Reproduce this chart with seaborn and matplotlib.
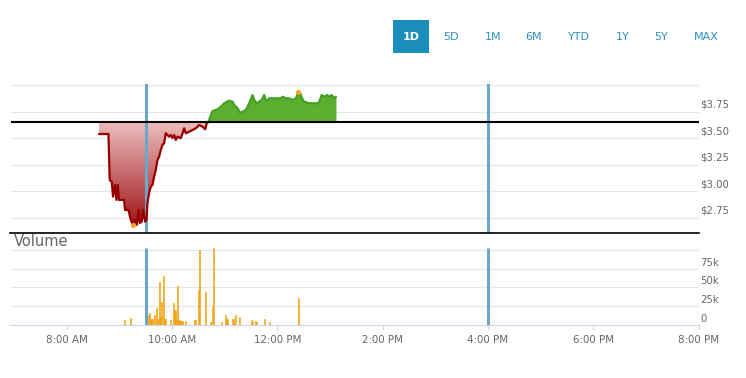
import numpy as np
import pandas as pd
import seaborn as sns
import matplotlib.pyplot as plt
import matplotlib.transforms as mtransforms
from matplotlib.colors import LinearSegmentedColormap
from matplotlib.patches import Rectangle

# intraday price (hours since midnight, $)
price_time = [8.614, 8.793, 8.817, 8.856, 8.880, 8.918, 8.945, 8.970, 8.994, 9.089,
              9.108, 9.173, 9.217, 9.260, 9.298, 9.331, 9.363, 9.388, 9.426, 9.451,
              9.489, 9.515, 9.534, 9.565, 9.597, 9.629, 9.660, 9.692, 9.724, 9.755,
              9.787, 9.819, 9.850, 9.882, 9.914, 9.945, 9.977, 10.009, 10.040, 10.072,
              10.105, 10.167, 10.200, 10.230, 10.262, 10.325, 10.390, 10.452, 10.515, 10.580,
              10.629, 10.656, 10.690,
              10.705, 10.770, 10.865, 10.928, 10.990, 11.086, 11.150, 11.181, 11.245, 11.295,
              11.340, 11.403, 11.466, 11.530, 11.561, 11.612, 11.656, 11.702, 11.751, 11.783,
              11.816, 11.846, 12.006, 12.068, 12.101, 12.163, 12.226, 12.291, 12.354, 12.397,
              12.435, 12.468, 12.511, 12.606, 12.766, 12.797, 12.842, 12.892, 12.943, 12.987,
              13.032, 13.082, 13.114]
price = [3.542, 3.542, 3.108, 3.090, 2.951, 3.061, 2.920, 3.061, 2.920, 2.920,
         2.825, 2.825, 2.731, 2.684, 2.731, 2.684, 2.825, 2.703, 2.715, 2.825,
         2.715, 2.731, 2.892, 2.986, 3.045, 3.061, 3.140, 3.203, 3.297, 3.328,
         3.392, 3.439, 3.455, 3.549, 3.533, 3.517, 3.533, 3.505, 3.533, 3.486,
         3.517, 3.502, 3.549, 3.596, 3.549, 3.564, 3.580, 3.596, 3.627, 3.611,
         3.587, 3.637, 3.656,
         3.675, 3.759, 3.775, 3.800, 3.832, 3.857, 3.847, 3.816, 3.785, 3.738,
         3.753, 3.769, 3.832, 3.910, 3.863, 3.832, 3.847, 3.863, 3.910, 3.863,
         3.857, 3.879, 3.879, 3.879, 3.894, 3.879, 3.879, 3.863, 3.879, 3.942,
         3.926, 3.879, 3.847, 3.832, 3.832, 3.847, 3.910, 3.894, 3.910, 3.894,
         3.910, 3.879, 3.894]
prev_close = 3.656

# volume bars
vol_time = [9.094, 9.208, 9.515, 9.550, 9.576, 9.601, 9.633, 9.663, 9.701, 9.728,
            9.758, 9.772, 9.796, 9.834, 9.853, 9.880, 9.967, 10.024, 10.057, 10.081,
            10.100, 10.133, 10.171, 10.195, 10.252, 10.423, 10.450, 10.499, 10.518, 10.632,
            10.731, 10.765, 10.784, 10.936, 11.010, 11.031, 11.050, 11.145, 11.164, 11.205,
            11.278, 11.504, 11.528, 11.581, 11.608, 11.752, 11.847, 12.402]
volume = [6, 9, 26, 13, 16, 8, 7, 13, 22, 8,
          58, 10, 31, 65, 8, 7, 6, 29, 20, 8,
          52, 6, 5, 5, 5, 6, 6, 46, 100, 44,
          4, 24, 104, 4, 13, 8, 7, 7, 8, 13,
          10, 6, 4, 5, 4, 7, 3, 36]
volume = [v * 1000 for v in volume]

hour_ticks = [8, 10, 12, 14, 16, 18, 20]
hour_labels = ["8:00 AM", "10:00 AM", "12:00 PM", "2:00 PM", "4:00 PM", "6:00 PM", "8:00 PM"]
price_ticks = [2.75, 3.00, 3.25, 3.50, 3.75, 4.00]
price_labels = ["$2.75", "$3.00", "$3.25", "$3.50", "$3.75", ""]
vol_ticks = [0, 25000, 50000, 75000, 100000]
vol_labels = ["0", "25k", "50k", "75k", ""]
buttons = ["1D", "5D", "1M", "6M", "YTD", "1Y", "5Y", "MAX"]
button_x = [411, 451, 493, 534, 579, 623, 661, 706]
session_marks = [9.5, 16.0]

sns.set_theme(style="white")
plt.rcParams['font.family'] = ['DejaVu Sans']

W, H = 746, 378
fig = plt.figure(figsize=(W / 100, H / 100), dpi=100)
left, right = 10.5, 698.6
xlim = (6.933, 20.0)

def px_axes(top, bottom):
    return fig.add_axes([left / W, (H - bottom) / H, (right - left) / W, (bottom - top) / H])

ax = px_axes(84, 233)
axv = px_axes(233, 324.5)

grid_c = "#e6e6e6"
lab_c = "#666666"
blue_c = "#6ba7c9"

df = pd.DataFrame({"t": price_time, "p": price})
split = price_time.index(10.690)
red = df.iloc[:split + 1]
green = df.iloc[split:]

# price panel
for v in price_ticks:
    ax.axhline(v, color=grid_c, lw=0.8, zorder=0)

poly = ax.fill_between(red.t, red.p, prev_close, color="none", lw=0)
cmap = LinearSegmentedColormap.from_list("reds", ["#a0161a", "#ecbfbf"])
grad = np.linspace(0, 1, 256).reshape(-1, 1)
im = ax.imshow(grad, extent=[red.t.min(), red.t.max(), red.p.min(), prev_close],
               origin="lower", aspect="auto", cmap=cmap, zorder=1)
im.set_clip_path(poly.get_paths()[0], transform=ax.transData)
ax.fill_between(green.t, green.p, prev_close, color="#5cae30", lw=0, zorder=1)

sns.lineplot(data=red, x="t", y="p", ax=ax, color="#960000", lw=1.6, zorder=3,
             sort=False, estimator=None)
sns.lineplot(data=green, x="t", y="p", ax=ax, color="#43a021", lw=1.6, zorder=3,
             sort=False, estimator=None)

lo = df.p.idxmin()
hi = df.p.idxmax()
ax.scatter([df.t[lo], df.t[hi]], [df.p[lo], df.p[hi]], s=14, color="#f5a623", zorder=4, lw=0)

ax.axhline(prev_close, color="black", lw=1.5, zorder=5)
for m in session_marks:
    ax.axvline(m, color=blue_c, lw=2.2, zorder=2)

ax.set_xlim(xlim)
ax.set_ylim(2.608, 4.014)
ax.set_xticks([])
ax.set_yticks([])
ax.set_xlabel("")
ax.set_ylabel("")
for s in ax.spines.values():
    s.set_visible(False)
ax.spines["bottom"].set_visible(True)
ax.spines["bottom"].set_color("black")
ax.spines["bottom"].set_linewidth(1.2)
ax.patch.set_alpha(0)

off_p = mtransforms.ScaledTranslation(2 / 100, 7 / 100, fig.dpi_scale_trans)
tr_p = mtransforms.blended_transform_factory(ax.transAxes, ax.transData) + off_p
for v, lab in zip(price_ticks, price_labels):
    ax.text(1.0, v, lab, transform=tr_p, ha="left", va="center", fontsize=7.3, color=lab_c)

# volume panel
for v in vol_ticks[1:]:
    axv.axhline(v, color=grid_c, lw=0.8, zorder=0)
axv.bar(vol_time, volume, width=0.024, color="#f0a30a", edgecolor="#f0a30a", lw=0.4, zorder=2)
for m in session_marks:
    axv.vlines(m, 0, 103000, color=blue_c, lw=2.2, zorder=3)
axv.set_xlim(xlim)
axv.set_ylim(0, 123600)
axv.set_yticks([])
axv.set_xticks(hour_ticks)
axv.set_xticklabels(hour_labels, fontsize=7.4, color=lab_c)
axv.tick_params(axis="x", bottom=True, length=3.6, width=0.8, color="#ccd6eb", pad=4)
for s in axv.spines.values():
    s.set_visible(False)
axv.spines["bottom"].set_visible(True)
axv.spines["bottom"].set_color("#ccd6eb")
axv.spines["bottom"].set_linewidth(0.8)
axv.patch.set_alpha(0)

off_v = mtransforms.ScaledTranslation(2 / 100, 6 / 100, fig.dpi_scale_trans)
tr_v = mtransforms.blended_transform_factory(axv.transAxes, axv.transData) + off_v
for v, lab in zip(vol_ticks, vol_labels):
    axv.text(1.0, v, lab, transform=tr_v, ha="left", va="center", fontsize=7.3, color=lab_c)
axv.text(14 / W, (H - 242) / H, "Volume", transform=fig.transFigure, fontsize=10.5,
         color=lab_c, ha="left", va="center")

# range buttons
fig.add_artist(Rectangle((393 / W, (H - 53) / H), 36 / W, 33 / H, transform=fig.transFigure,
                         facecolor="#1a8dbb", edgecolor="none"))
for b, bx in zip(buttons, button_x):
    col = "white" if b == "1D" else "#2a91bf"
    fig.text(bx / W, (H - 36.5) / H, b, ha="center", va="center", fontsize=8,
             color=col, fontweight="bold" if b == "1D" else "normal")

fig.savefig("out.png", dpi=100)
